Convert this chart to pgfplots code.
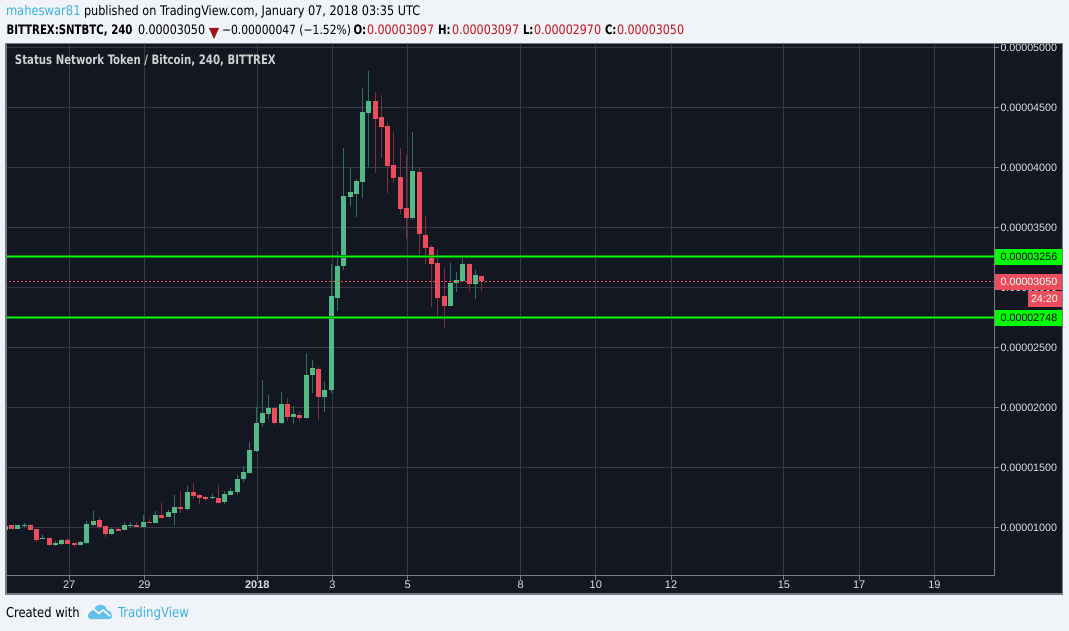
\documentclass[border=0pt]{standalone}
\usepackage{pgfplots}
\usepackage{pgfplotstable}
\usepackage{fontspec}
\pgfplotsset{compat=1.18}
\setmainfont{Liberation Sans}
\newfontfamily\hdr[FakeStretch=0.95]{DejaVu Sans Condensed}
\newfontfamily\hdrb[FakeStretch=0.87,BoldFont={DejaVu Sans Condensed Bold}]{DejaVu Sans Condensed Bold}
\definecolor{pagebg}{HTML}{F0F3F7}
\definecolor{panel}{HTML}{131722}
\definecolor{gridc}{HTML}{363A45}
\definecolor{framec}{HTML}{787B86}
\definecolor{upbody}{HTML}{53B987}
\definecolor{upwick}{HTML}{2F6E5A}
\definecolor{dnbody}{HTML}{EB4D5C}
\definecolor{dnwick}{HTML}{7E2E40}
\definecolor{linkblue}{HTML}{3BB3E4}
\definecolor{dred}{HTML}{C4161C}
\definecolor{lime}{HTML}{00FF00}
\definecolor{limeedge}{HTML}{0A8A14}
\pgfplotstableread{
i top bot high low
-1 1011 978 1011 978
1 1019 986 1019 986
2 1019 1011 1036 1003
5 914 903 936 903
7 869 853 886 844
8 894 861 903 853
11 878 853 886 853
12 1028 869 1053 861
13 1053 1019 1136 1011
16 986 944 1003 936
18 1019 978 1044 978
19 1019 1011 1044 994
21 1044 1003 1103 1003
23 1103 1036 1136 1036
25 1128 1086 1144 1086
26 1169 1119 1269 1011
28 1294 1153 1344 1136
32 1253 1244 1278 1236
34 1278 1211 1303 1194
35 1303 1269 1328 1269
36 1403 1294 1436 1269
37 1461 1403 1511 1378
38 1644 1453 1711 1444
39 1869 1636 2000 1628
40 1953 1869 2228 1836
41 1994 1944 2103 1903
43 2028 1869 2128 1861
45 1944 1919 2011 1861
47 2269 1911 2453 1903
48 2328 2269 2394 2119
50 2144 2086 2211 1961
51 2928 2144 3194 2117
52 3178 2911 3303 2803
53 3761 3178 4161 3144
54 3794 3753 3994 3678
55 3886 3778 3903 3586
56 4461 3878 4661 3744
57 4553 4453 4803 4003
64 3969 3578 4294 3561
70 3036 2844 3203 2844
71 3061 3036 3128 2961
72 3194 3053 3269 3053
74 3103 3028 3144 2903
}\upcandles
\pgfplotstableread{
i top bot high low
0 1019 986 1019 986
3 1019 978 1028 978
4 986 894 986 881
6 911 853 919 844
9 894 861 911 861
10 869 853 869 836
14 1061 1003 1086 986
15 1011 944 1011 919
17 986 969 994 969
20 1019 1003 1044 1003
22 1044 1036 1069 1036
24 1103 1078 1203 1069
27 1169 1153 1303 1119
29 1294 1261 1369 1236
30 1269 1244 1278 1194
31 1253 1236 1261 1219
33 1244 1203 1353 1203
42 1994 1869 1994 1853
44 2028 1919 2078 1886
46 1936 1911 1961 1886
49 2319 2086 2336 1894
58 4553 4403 4628 3953
59 4419 4336 4603 4078
60 4344 4011 4378 3786
61 4019 3911 4294 3869
62 3919 3653 4161 3611
63 3661 3578 4103 3403
65 3961 3444 4000 3244
66 3436 3328 3594 3194
67 3336 3194 3353 2836
68 3203 2911 3311 2736
69 2928 2844 3161 2661
73 3194 3028 3203 2969
75 3097 3050 3097 2970
}\dncandles
\begin{document}
\begin{tikzpicture}[x=1pt,y=-1pt,inner sep=0pt,outer sep=0pt]
\fill[pagebg] (0,0) rectangle (1069,631);
\fill[panel] (6,43.5) rectangle (1062.7,594);
\begin{axis}[
  at={(6pt,-575.5pt)},anchor=south west,
  scale only axis,width=988.5pt,height=532pt,
  xmin=-0.877,xmax=156.78,ymin=598,ymax=5032,
  axis line style={draw=none},
  clip=true,
  grid=major,
  major grid style={gridc,line width=1pt},
  xtick={9.2,21.2,39.2,51.2,63.2,81.2,93.2,105.2,123.2,135.2,147.2},
  xticklabels={27,29,{\bfseries 2018},3,5,8,10,12,15,17,19},
  ytick={1000,1500,2000,2500,3000,3500,4000,4500,5000},
  yticklabels={0.00001000,0.00001500,0.00002000,0.00002500,0.00003000,0.00003500,0.00004000,0.00004500,0.00005000},
  xtick pos=bottom,ytick pos=right,
  tick align=outside,
  major tick length=4pt,
  tick style={framec,line width=1pt},
  x tick label style={font=\fontsize{11}{13}\selectfont,text=white!88!black,yshift=-1.5pt},
  y tick label style={font=\fontsize{10.7}{13}\selectfont,text=white!88!black,xshift=2pt,yshift=-0.6pt},
]
\addplot[draw=none,forget plot,error bars/.cd,y dir=both,y explicit,error mark=none,
  error bar style={draw=upwick,line width=1pt}]
  table[x=i,y=high,y error plus expr=0,y error minus expr=\thisrow{high}-\thisrow{low}] {\upcandles};
\addplot[draw=none,forget plot,error bars/.cd,y dir=both,y explicit,error mark=none,
  error bar style={draw=dnwick,line width=1pt}]
  table[x=i,y=high,y error plus expr=0,y error minus expr=\thisrow{high}-\thisrow{low}] {\dncandles};
\addplot[draw=none,forget plot,error bars/.cd,y dir=both,y explicit,error mark=none,
  error bar style={draw=upbody,line width=5pt}]
  table[x=i,y=top,y error plus expr=0,y error minus expr=\thisrow{top}-\thisrow{bot}] {\upcandles};
\addplot[draw=none,forget plot,error bars/.cd,y dir=both,y explicit,error mark=none,
  error bar style={draw=dnbody,line width=5pt}]
  table[x=i,y=top,y error plus expr=0,y error minus expr=\thisrow{top}-\thisrow{bot}] {\dncandles};
\addplot[dnbody,line width=0.8pt,dash pattern=on 2pt off 2pt,forget plot] coordinates {(-1,3050) (157,3050)};
\addplot[limeedge,line width=3pt,forget plot] coordinates {(-1,3256) (157,3256)};
\addplot[lime,line width=1.6pt,forget plot] coordinates {(-1,3256) (157,3256)};
\addplot[limeedge,line width=3pt,forget plot] coordinates {(-1,2748) (157,2748)};
\addplot[lime,line width=1.6pt,forget plot] coordinates {(-1,2748) (157,2748)};
\end{axis}
% axis rules
\draw[framec,line width=1pt] (994.5,43.5) -- (994.5,575.5);
\draw[framec,line width=1pt] (6,575.5) -- (994.5,575.5);
% price tags
\fill[lime] (994.5,249) rectangle (1062,265);
\fill[lime] (994.5,310) rectangle (1062,326);
\fill[dnbody] (994.5,274) rectangle (1062,290);
\fill[dnbody] (1028,291) rectangle (1062,307);
\begin{scope}[font=\fontsize{10.7}{13}\selectfont]
\node[anchor=west,text=black] at (1000.7,257) {0.00003256};
\node[anchor=west,text=black] at (1000.7,318) {0.00002748};
\node[anchor=west,text=white] at (1000.7,282) {0.00003050};
\node[anchor=west,text=white] at (1031,299) {24:20};
\end{scope}
% cover above the panel, frame
\fill[pagebg] (0,0) rectangle (1069,43);
\draw[framec,line width=1.3pt] (6,43.5) rectangle (1062.7,594);
% title
\node[anchor=base west,text=white!82!black,font=\hdrb\fontsize{13}{15}\selectfont] at (15,64.5) {Status Network Token / Bitcoin, 240, BITTREX};
% header
\begin{scope}[font=\hdr\fontsize{13}{15}\selectfont]
\node[anchor=base west,text=linkblue,font=\hdr\fontsize{13.5}{15}\selectfont] at (6,15.5) {maheswar81};
\node[anchor=base west,text=black,font=\hdr\fontsize{13.2}{15}\selectfont] at (84,15.5) {published on TradingView.com, January 07, 2018 03:35 UTC};
\node[anchor=base west,text=black,font=\hdrb\fontsize{13}{15}\selectfont] at (6.5,34.5) {BITTREX:SNTBTC, 240};
\node[anchor=base west,text=black] at (138,34.5) {0.00003050};
\fill[dred!80!black] (209,28) -- (219,28) -- (214,39) -- cycle;
\node[anchor=base west,text=black,font=\hdr\fontsize{12.6}{15}\selectfont] at (222,34.5) {−0.00000047 (−1.52\%)};
\node[anchor=base west,text=black,font=\hdrb\fontsize{13}{15}\selectfont] at (353.5,34.5) {O:};
\node[anchor=base west,text=dred] at (367,34.5) {0.00003097};
\node[anchor=base west,text=black,font=\hdrb\fontsize{13}{15}\selectfont] at (438,34.5) {H:};
\node[anchor=base west,text=dred] at (452,34.5) {0.00003097};
\node[anchor=base west,text=black,font=\hdrb\fontsize{13}{15}\selectfont] at (523,34.5) {L:};
\node[anchor=base west,text=dred] at (534,34.5) {0.00002970};
\node[anchor=base west,text=black,font=\hdrb\fontsize{13}{15}\selectfont] at (605,34.5) {C:};
\node[anchor=base west,text=dred] at (617,34.5) {0.00003050};
% footer
\node[anchor=base west,text=black,font=\hdr\fontsize{13.5}{15}\selectfont] at (6,617.5) {Created with};
\node[anchor=base west,text=linkblue,font=\hdr\fontsize{13.8}{15}\selectfont] at (118,617.5) {TradingView};
\end{scope}
% logo
\fill[linkblue!80!white] (88,616) .. controls (88,611) and (92,610) .. (94,610) .. controls (95,606) and (99,604) .. (102,605) .. controls (105,605) and (107,608) .. (107,610) .. controls (110,610) and (112,613) .. (112,616) .. controls (112,618) and (111,619) .. (109,619) -- (91,619) .. controls (89,619) and (88,618) .. (88,616) -- cycle;
\draw[white,line width=1.5pt,line join=miter] (86,614) -- (93,608.5) -- (99,613.5) -- (103,610) -- (110,616);
\end{tikzpicture}
\end{document}
